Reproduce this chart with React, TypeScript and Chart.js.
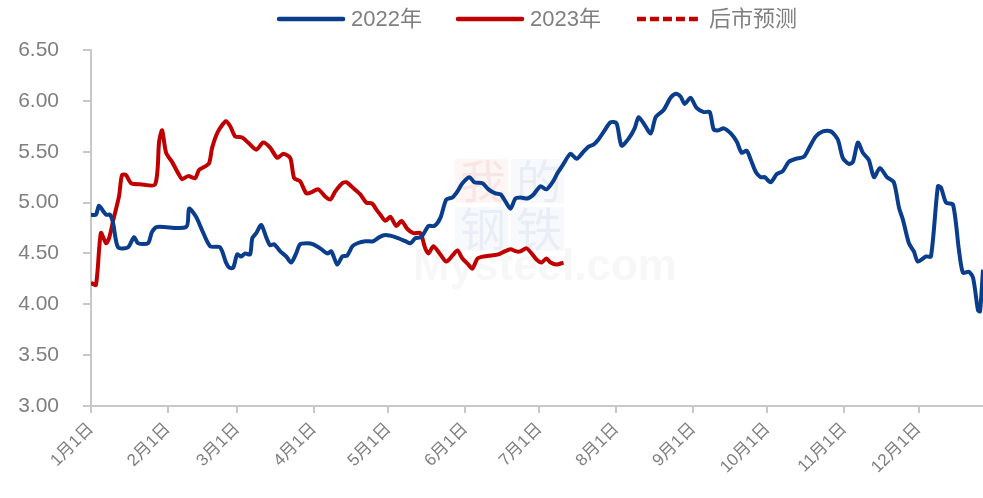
import React, { useEffect, useRef } from "react";
import { Chart, registerables } from "chart.js";

Chart.register(...registerables);

// x positions are day-of-year offsets (0 = 1月1日)
const monthDays = [0, 31, 59, 90, 120, 151, 181, 212, 243, 273, 304, 334];
const monthLabels = ["1月1日", "2月1日", "3月1日", "4月1日", "5月1日", "6月1日", "7月1日", "8月1日", "9月1日", "10月1日", "11月1日", "12月1日"];
const yTicks = [3.0, 3.5, 4.0, 4.5, 5.0, 5.5, 6.0, 6.5];

const seriesNames = ["2022年", "2023年", "后市预测"];

const days2022 = [0, 2, 3.2, 4.8, 6.1, 7.7, 8.9, 10.9, 14.9, 17.4, 19, 23, 24.6, 26.7, 38.4, 39.6, 42.4, 44.8, 48.1, 52.1, 54.5, 55.8, 57.4, 59, 60.6, 62.2, 64.2, 65.1, 66.7, 68.7, 70.7, 72.3, 73.9, 76.4, 78.8, 80.8, 82.8, 84.4, 87.3, 89.7, 92.5, 95.4, 97, 99.4, 101.4, 103.4, 105.5, 107.5, 110.7, 113.9, 116.4, 118.8, 122.8, 126.9, 128.9, 130.9, 133.3, 136.2, 138.6, 141, 143.4, 145.9, 147.9, 149.9, 152.7, 154.7, 158, 160.4, 163.2, 165.3, 167.3, 169.3, 171.3, 173.3, 176.2, 178.6, 181.4, 183.8, 186.3, 188.3, 190.7, 193.5, 196, 198.4, 200.8, 202.8, 204.8, 207.3, 209.7, 212.1, 214.1, 217, 219.4, 221, 223, 225.9, 227.9, 231.1, 233.9, 236, 238, 239.6, 242, 244.4, 247.3, 249.7, 251.3, 253.3, 255.4, 258.2, 260.6, 262.6, 264.6, 266.3, 268.3, 270.3, 271.9, 274.3, 276.8, 279.2, 281.6, 284.4, 287.7, 290.1, 292.5, 295.4, 298.6, 301.4, 303.4, 305.9, 307.5, 309.5, 311.5, 313.9, 316, 318.4, 321.2, 324, 326.1, 327.7, 330.1, 332.1, 333.7, 337, 339, 341.8, 343, 345.1, 347.9, 350.3, 351.9, 354.3, 356, 358, 358.8, 360];
const values2022 = [4.88, 4.88, 4.97, 4.92, 4.88, 4.88, 4.8, 4.56, 4.56, 4.66, 4.6, 4.6, 4.71, 4.76, 4.76, 4.94, 4.86, 4.73, 4.57, 4.56, 4.41, 4.36, 4.36, 4.49, 4.47, 4.5, 4.49, 4.65, 4.7, 4.78, 4.66, 4.58, 4.59, 4.52, 4.47, 4.41, 4.5, 4.59, 4.6, 4.59, 4.55, 4.5, 4.52, 4.39, 4.47, 4.48, 4.57, 4.6, 4.62, 4.62, 4.66, 4.68, 4.66, 4.62, 4.6, 4.65, 4.66, 4.77, 4.77, 4.85, 5.03, 5.05, 5.11, 5.19, 5.25, 5.2, 5.19, 5.13, 5.09, 5.08, 5.01, 4.94, 5.04, 5.05, 5.04, 5.08, 5.16, 5.13, 5.2, 5.29, 5.38, 5.48, 5.43, 5.49, 5.55, 5.57, 5.62, 5.71, 5.79, 5.78, 5.56, 5.63, 5.73, 5.84, 5.78, 5.68, 5.84, 5.91, 6.03, 6.07, 6.04, 5.97, 6.03, 5.93, 5.89, 5.89, 5.72, 5.71, 5.73, 5.68, 5.6, 5.49, 5.51, 5.42, 5.3, 5.25, 5.25, 5.2, 5.28, 5.31, 5.4, 5.43, 5.45, 5.55, 5.65, 5.7, 5.7, 5.62, 5.44, 5.38, 5.4, 5.59, 5.49, 5.42, 5.25, 5.34, 5.25, 5.2, 4.95, 4.83, 4.6, 4.52, 4.42, 4.47, 4.47, 5.16, 5.15, 5.0, 4.98, 4.53, 4.31, 4.32, 4.26, 3.94, 3.93, 4.34];

const days2023 = [0, 2, 4, 6.1, 7.3, 9.3, 11.3, 12.5, 14.1, 16.2, 19.8, 25.9, 27.5, 28.7, 30.3, 32.7, 35.6, 36.8, 39.2, 42, 43.6, 45.7, 47.7, 48.9, 51.3, 54.5, 56.2, 58.2, 61, 63.4, 66.7, 69.5, 72.3, 75.2, 77.6, 80.4, 82, 84.4, 86.9, 88.9, 91.7, 94.5, 96.6, 98.6, 101.4, 103, 105.5, 108.7, 111.1, 113.5, 115.2, 116.8, 118.8, 120.8, 123.2, 125.3, 127.7, 130.1, 132.9, 134.9, 136.2, 138.2, 141, 143.4, 145.9, 147.9, 149.9, 152.3, 153.9, 156, 158.4, 161.6, 164.4, 166.9, 169.3, 171.7, 173.3, 175.8, 177.8, 179.8, 181.8, 183.8, 185.5, 187.9, 190.7];
const values2023 = [4.21, 4.19, 4.7, 4.6, 4.65, 4.86, 5.06, 5.27, 5.27, 5.19, 5.18, 5.18, 5.6, 5.71, 5.49, 5.4, 5.27, 5.23, 5.26, 5.24, 5.32, 5.35, 5.39, 5.54, 5.7, 5.8, 5.75, 5.65, 5.64, 5.59, 5.52, 5.59, 5.54, 5.44, 5.48, 5.44, 5.24, 5.21, 5.09, 5.1, 5.13, 5.06, 5.03, 5.11, 5.19, 5.2, 5.15, 5.08, 5.0, 4.99, 4.93, 4.88, 4.82, 4.86, 4.77, 4.82, 4.74, 4.7, 4.7, 4.55, 4.5, 4.57, 4.49, 4.42, 4.48, 4.53, 4.45, 4.39, 4.35, 4.45, 4.47, 4.48, 4.49, 4.52, 4.54, 4.52, 4.52, 4.55, 4.5, 4.44, 4.41, 4.45, 4.41, 4.39, 4.41];

const forecastDays: number[] = [];
const forecastValues: number[] = [];

const BLUE = "#0a3d8c";
const RED = "#c00000";
const GRAY_TEXT = "#7f7f7f";
const AXIS = "#c8c8c8";
const FONT = "'Liberation Sans', Arial, 'Noto Sans CJK SC', sans-serif";

const toPoints = (xs: number[], ys: number[]) => xs.map((x, i) => ({ x, y: ys[i] }));

const lineLegend = {
  id: "lineLegend",
  afterDraw(chart: any) {
    const { ctx, chartArea } = chart;
    const lineLen = 68;
    const gapText = 6;
    const gapItem = 34;
    const y = 19;
    ctx.save();
    ctx.font = `22px ${FONT}`;
    ctx.textBaseline = "middle";
    ctx.textAlign = "left";
    const items = chart.data.datasets.map((ds: any) => ({
      text: ds.label,
      color: ds.borderColor,
      dash: ds.borderDash || [],
      w: ctx.measureText(ds.label).width,
    }));
    const total = items.reduce((s: number, it: any) => s + lineLen + gapText + it.w, 0) + gapItem * (items.length - 1);
    let x = (chartArea.left + chartArea.right) / 2 - total / 2;
    for (const it of items) {
      ctx.beginPath();
      ctx.strokeStyle = it.color;
      ctx.lineWidth = 4.5;
      ctx.lineCap = it.dash.length ? "butt" : "round";
      ctx.setLineDash(it.dash);
      ctx.moveTo(x + 2, y);
      ctx.lineTo(x + lineLen - 2, y);
      ctx.stroke();
      ctx.setLineDash([]);
      ctx.fillStyle = GRAY_TEXT;
      ctx.fillText(it.text, x + lineLen + gapText, y + 1);
      x += lineLen + gapText + it.w + gapItem;
    }
    ctx.restore();
  },
};

const watermark = {
  id: "watermark",
  beforeDatasetsDraw(chart: any) {
    const { ctx, chartArea } = chart;
    const w = chartArea.right - chartArea.left;
    const h = chartArea.bottom - chartArea.top;
    const bx = chartArea.left + w * 0.408;
    const by = chartArea.top + h * 0.306;
    const s = 56;
    const blocks = [
      { t: "我", dx: 0, dy: 0, bg: "rgba(235,120,120,0.07)", fg: "rgba(220,90,90,0.10)" },
      { t: "的", dx: s, dy: 0, bg: "rgba(120,145,210,0.06)", fg: "rgba(90,120,190,0.09)" },
      { t: "钢", dx: 0, dy: s - 8, bg: "rgba(120,145,210,0.06)", fg: "rgba(90,120,190,0.09)" },
      { t: "铁", dx: s, dy: s - 8, bg: "rgba(120,145,210,0.06)", fg: "rgba(90,120,190,0.09)" },
    ];
    ctx.save();
    ctx.textAlign = "center";
    ctx.textBaseline = "middle";
    ctx.font = `46px 'Noto Sans CJK SC', serif`;
    for (const b of blocks) {
      ctx.fillStyle = b.bg;
      ctx.fillRect(bx + b.dx, by + b.dy, s - 3, s - 12);
      ctx.fillStyle = b.fg;
      ctx.fillText(b.t, bx + b.dx + s / 2, by + b.dy + (s - 12) / 2);
    }
    ctx.font = `bold 44px Arial, sans-serif`;
    ctx.textBaseline = "alphabetic";
    ctx.fillStyle = "rgba(210,210,210,0.18)";
    ctx.fillText("Mysteel.com", bx + 90, by + 121);
    ctx.restore();
  },
};

export default function App() {
  const ref = useRef<HTMLCanvasElement | null>(null);

  useEffect(() => {
    if (!ref.current) return;
    const chart = new Chart(ref.current, {
      type: "line",
      data: {
        datasets: [
          {
            label: seriesNames[0],
            data: toPoints(days2022, values2022),
            borderColor: BLUE,
            backgroundColor: BLUE,
            borderWidth: 4,
            pointRadius: 0,
            tension: 0.25,
          },
          {
            label: seriesNames[1],
            data: toPoints(days2023, values2023),
            borderColor: RED,
            backgroundColor: RED,
            borderWidth: 4,
            pointRadius: 0,
            tension: 0.25,
          },
          {
            label: seriesNames[2],
            data: toPoints(forecastDays, forecastValues),
            borderColor: RED,
            backgroundColor: RED,
            borderWidth: 4,
            borderDash: [9, 4],
            pointRadius: 0,
          },
        ],
      },
      options: {
        animation: false,
        responsive: true,
        maintainAspectRatio: false,
        layout: { padding: { top: 50, right: 0, left: 0, bottom: 0 } },
        plugins: {
          tooltip: { enabled: false },
          legend: { display: false },
        },
        scales: {
          x: {
            type: "linear",
            min: 0,
            max: 360,
            afterBuildTicks: (scale: any) => {
              scale.ticks = monthDays.map((v) => ({ value: v }));
            },
            afterFit: (scale: any) => {
              scale.height = 92;
            },
            ticks: {
              autoSkip: false,
              maxRotation: 45,
              minRotation: 45,
              color: GRAY_TEXT,
              font: { size: 17, family: FONT },
              padding: 6,
              callback: (_v: any, i: number) => monthLabels[i],
            },
            grid: { drawOnChartArea: false, drawTicks: true, tickLength: 7, color: AXIS, lineWidth: 2 },
            border: { color: AXIS, width: 2 },
          },
          y: {
            min: 3,
            max: 6.5,
            afterBuildTicks: (scale: any) => {
              scale.ticks = yTicks.map((v) => ({ value: v }));
            },
            afterFit: (scale: any) => {
              scale.width = 91;
            },
            ticks: {
              color: GRAY_TEXT,
              font: { size: 21, family: FONT },
              padding: 24,
              callback: (v: any) => Number(v).toFixed(2),
            },
            grid: { drawOnChartArea: false, drawTicks: true, tickLength: 8, color: AXIS, lineWidth: 2 },
            border: { color: AXIS, width: 2 },
          },
        },
      },
      plugins: [watermark, lineLegend],
    });
    return () => chart.destroy();
  }, []);

  return (
    <div style={{ position: "absolute", left: 0, top: 0, width: 983, height: 498, background: "#fff" }}>
      <canvas ref={ref} />
    </div>
  );
}
